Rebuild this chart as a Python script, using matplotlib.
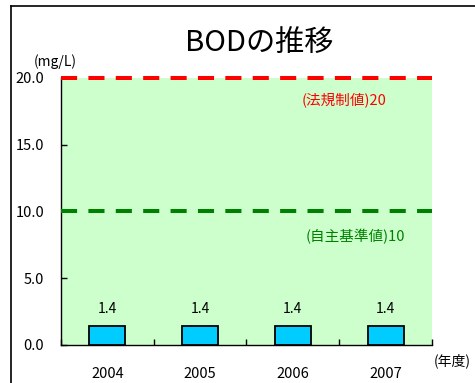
import numpy as np
import matplotlib
matplotlib.use("Agg")
from matplotlib import pyplot as plt
from matplotlib.ticker import FormatStrFormatter

plt.rcParams['font.family'] = ['Noto Sans CJK JP', 'DejaVu Sans']

years = ["2004", "2005", "2006", "2007"]
bod = [1.4, 1.4, 1.4, 1.4]
legal_limit = 20
self_limit = 10
y_ticks = [0, 5, 10, 15, 20]

BG_GREEN = "#ccffcc"
BAR_BLUE = "#00ccff"


def bod_chart():
    fig = plt.figure(figsize=(4.75, 3.83), dpi=100)

    # outer frame, drawn as the top/left spines of a background axes
    frame = fig.add_axes([11 / 475, -0.05, 1.0, 1.05 - 6 / 383])
    frame.set_xticks([])
    frame.set_yticks([])
    frame.patch.set_visible(False)
    for side in ("right", "bottom"):
        frame.spines[side].set_visible(False)
    for side in ("top", "left"):
        frame.spines[side].set_linewidth(1.2)

    ax = fig.add_axes([61 / 475, 38 / 383, 371 / 475, 267 / 383])
    ax.set_facecolor(BG_GREEN)

    x = np.arange(len(years))
    ax.bar(x, bod, width=0.39, color=BAR_BLUE, edgecolor="black",
           linewidth=1.3, zorder=3)
    for xi, v in zip(x, bod):
        ax.text(xi, v + 1.3, f"{v:.1f}", ha="center", va="center",
                fontsize=10, color="black")

    ax.axhline(legal_limit, color="#ff0000", linewidth=2.9,
               dashes=(4.0, 2.8), zorder=4, clip_on=False)
    ax.axhline(self_limit, color="#008000", linewidth=2.9,
               dashes=(4.0, 2.8), zorder=4)
    ax.text(2.55, 18.35, f"(法規制値){legal_limit}", color="#ff0000",
            ha="center", va="center", fontsize=10.5)
    ax.text(2.67, 8.15, f"(自主基準値){self_limit}", color="#008000",
            ha="center", va="center", fontsize=10.5)

    ax.set_xlim(-0.5, 3.5)
    ax.set_ylim(0, 20)
    ax.set_xticks(x)
    ax.set_xticklabels(years)
    ax.set_xticks(np.arange(-0.5, 4.0, 1.0), minor=True)
    ax.tick_params(axis="x", which="major", length=0, pad=16, labelsize=10.5)
    ax.tick_params(axis="x", which="minor", direction="in", length=4,
                   width=1)
    ax.set_yticks(y_ticks)
    ax.yaxis.set_major_formatter(FormatStrFormatter("%.1f"))
    ax.tick_params(axis="y", direction="in", length=4.5, width=1, pad=12,
                   labelsize=10.5)

    for side in ("top", "right"):
        ax.spines[side].set_visible(False)
    for side in ("left", "bottom"):
        ax.spines[side].set_color("black")
        ax.spines[side].set_linewidth(1.0)

    fig.text(259 / 475, 1 - 44 / 383, "BODの推移", ha="center",
             va="center", fontsize=21)
    fig.text(55 / 475, 1 - 62 / 383, "(mg/L)", ha="center", va="center",
             fontsize=10)
    fig.text(434 / 475, 1 - 361 / 383, "(年度)", ha="left", va="center",
             fontsize=10)

    fig.savefig("out.png", dpi=100)


def main():
    bod_chart()


if __name__ == "__main__":
    main()
